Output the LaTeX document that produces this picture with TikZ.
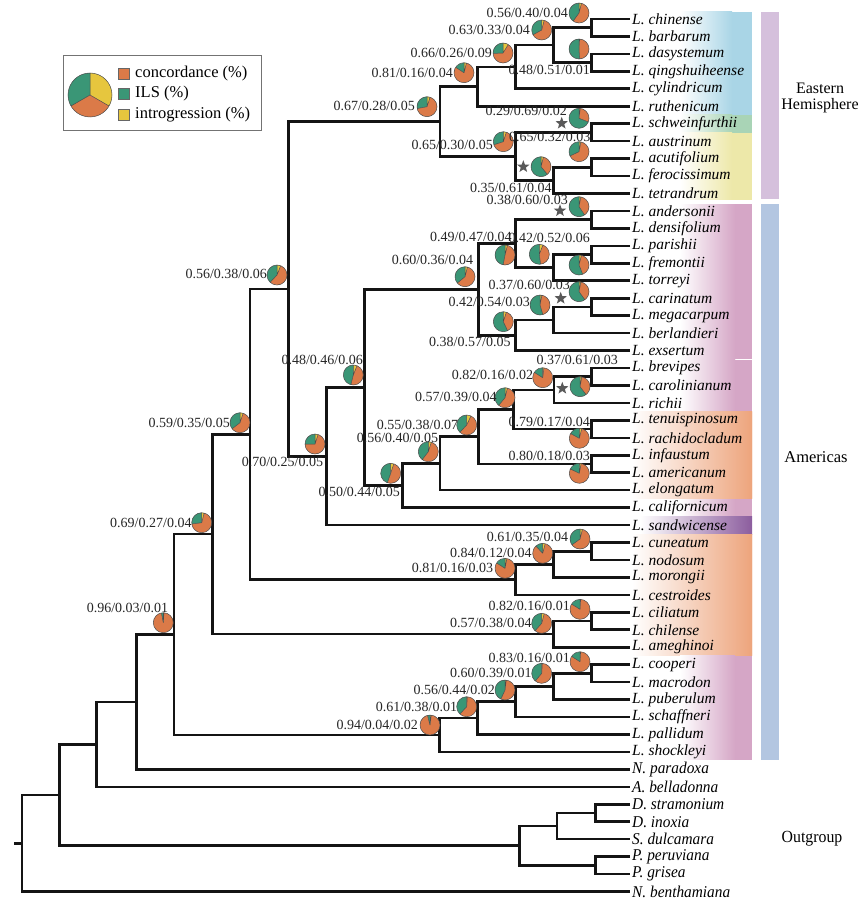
\documentclass[tikz,border=0pt]{standalone}
\usepackage{fontspec}
\setmainfont{Liberation Serif}
\newfontfamily\condfont{Liberation Serif}[FakeStretch=0.93]
\usetikzlibrary{shapes.geometric}
\definecolor{cO}{HTML}{DB7A48}
\definecolor{cG}{HTML}{3A9676}
\definecolor{cY}{HTML}{E6C63E}
\definecolor{bBlue}{HTML}{A9D5E6}
\definecolor{bGreen}{HTML}{A9D4B6}
\definecolor{bYellow}{HTML}{EDE8A9}
\definecolor{bPink}{HTML}{D5A6C6}
\definecolor{bOrange}{HTML}{EDA47C}
\definecolor{bPurple}{HTML}{8C5D9E}
\definecolor{barE}{HTML}{D5C0DC}
\definecolor{barA}{HTML}{B3C6E1}
\newcommand{\piech}[5]{%
 \pgfmathsetmacro{\pcS}{#3+#4+#5}%
 \pgfmathsetmacro{\pcA}{90-360*#5/\pcS}%
 \pgfmathsetmacro{\pcB}{\pcA-360*#3/\pcS}%
 \fill[cY] (#1) -- ++(90:#2) arc[start angle=90,end angle=\pcA,radius=#2] -- cycle;
 \fill[cO] (#1) -- ++(\pcA:#2) arc[start angle=\pcA,end angle=\pcB,radius=#2] -- cycle;
 \fill[cG] (#1) -- ++(\pcB:#2) arc[start angle=\pcB,end angle=-270,radius=#2] -- cycle;
 \draw[pieln] (#1) -- ++(90:#2) (#1) -- ++(\pcA:#2) (#1) -- ++(\pcB:#2) (#1) circle[radius=#2];
}
\newcommand{\band}[5]{%
 \shade[left color=white, right color=#3] (#4,-#1) rectangle (#5,-#2);
 \fill[#3] (#5,-#1) rectangle (752,-#2);
}
\begin{document}
\begin{tikzpicture}[x=1pt,y=1pt,
  br/.style={line width=2.6pt, draw=black!92, line join=miter},
  pieln/.style={draw=black!70, line width=0.5pt},
  num/.style={font=\fontsize{14}{14}\selectfont, text=black!85, inner sep=0pt, anchor=east},
  tiplab/.style={font=\fontsize{15.5}{16}\selectfont\itshape, inner sep=0pt, anchor=west, xshift=2pt},
  ogtip/.style={font=\condfont\fontsize{16.5}{16.5}\selectfont\itshape, inner sep=0pt, anchor=west, xshift=2pt},
  starnode/.style={star, star points=5, star point ratio=2.4, fill=black!65, draw=none, minimum size=13pt, inner sep=0pt},
  legsq/.style={draw=black!60, line width=0.5pt, minimum size=11pt, inner sep=0pt},
  legtext/.style={font=\fontsize{16.5}{17}\selectfont, inner sep=0pt, anchor=west},
  region/.style={font=\fontsize{16}{16}\selectfont, align=center, inner sep=0pt}]
\useasboundingbox (0,0) rectangle (865,-904);

% background bands
\band{11.7}{114.7}{bBlue}{680}{732}
\band{114.7}{133}{bGreen}{680}{732}
\band{133}{199.5}{bYellow}{680}{732}
\band{204}{359.2}{bPink}{680}{735}
\band{359.8}{411.5}{bPink}{680}{735}
\band{411.5}{498.5}{bOrange}{632}{752}
\band{499}{516.5}{bPink}{680}{735}
\shade[left color=white, middle color=bPurple!60, right color=bPurple] (640,-516.5) rectangle (752,-534);
\band{534}{655.5}{bOrange}{632}{752}
\band{655.5}{759.5}{bPink}{680}{735}

% region bars
\fill[barE] (761,-11.7) rectangle (779,-199);
\fill[barA] (761,-204) rectangle (779,-759.5);
\node[region] (eastlab) at (820,-98) {Eastern\\Hemisphere};
\node[region, font=\fontsize{16.5}{17}\selectfont] (amerlab) at (816,-457) {Americas};
\node[region, font=\condfont\fontsize{17}{17}\selectfont] (outlab) at (812,-839) {Outgroup};

% tips
\foreach \n [count=\i from 0] in {L. chinense,L. barbarum,L. dasystemum,L. qingshuiheense,L. cylindricum,L. ruthenicum,L. schweinfurthii,L. austrinum,L. acutifolium,L. ferocissimum,L. tetrandrum,L. andersonii,L. densifolium,L. parishii,L. fremontii,L. torreyi,L. carinatum,L. megacarpum,L. berlandieri,L. exsertum,L. brevipes,L. carolinianum,L. richii,L. tenuispinosum,L. rachidocladum,L. infaustum,L. americanum,L. elongatum,L. californicum,L. sandwicense,L. cuneatum,L. nodosum,L. morongii,L. cestroides,L. ciliatum,L. chilense,L. ameghinoi,L. cooperi,L. macrodon,L. puberulum,L. schaffneri,L. pallidum,L. shockleyi}{
  \coordinate (t\i) at (630,{-(19+17.45*\i)});
  \node[tiplab] (tl\i) at (t\i) {\n};
}
\foreach \n [count=\i from 43] in {N. paradoxa,A. belladonna,D. stramonium,D. inoxia,S. dulcamara,P. peruviana,P. grisea,N. benthamiana}{
  \coordinate (t\i) at (630,{-(19+17.45*\i)});
  \node[ogtip] (tl\i) at (t\i) {\n};
}

% internal nodes
\coordinate (nCB) at (591.7,-27.725);
\coordinate (nDQ) at (591.7,-62.625);
\coordinate (nCBDQ) at (553.3,-45.175);
\coordinate (nCyl) at (515.7,-66.99);
\coordinate (nRuth) at (477.7,-86.62);
\coordinate (nSA) at (591.7,-132.425);
\coordinate (nAF) at (591.7,-167.325);
\coordinate (nAFT) at (553.3,-180.41);
\coordinate (nSAAFT) at (515.7,-156.42);
\coordinate (nEast) at (440,-121.52);
\coordinate (nAD) at (591.7,-219.675);
\coordinate (nPF) at (591.7,-254.575);
\coordinate (nPFT) at (553.3,-267.66);
\coordinate (nADPFT) at (515.7,-243.67);
\coordinate (nCM) at (591.7,-306.925);
\coordinate (nCMB) at (553.3,-320.01);
\coordinate (nCMBE) at (515.7,-335.28);
\coordinate (nAm1) at (478.3,-289.475);
\coordinate (nBC) at (591.7,-376.725);
\coordinate (nBCR) at (554,-389.81);
\coordinate (nTR) at (591.7,-429.075);
\coordinate (nBCRTR) at (513.3,-409.44);
\coordinate (nIA) at (591.7,-463.975);
\coordinate (nBIA) at (478.3,-436.71);
\coordinate (nElong) at (440,-463.43);
\coordinate (nCalif) at (402.3,-485.515);
\coordinate (nI) at (364.3,-387.495);
\coordinate (nH) at (326.7,-456.27);
\coordinate (nG) at (288.3,-288.9);
\coordinate (nCN) at (591.7,-551.225);
\coordinate (nCNM) at (553.3,-564.31);
\coordinate (nCNMC) at (515.7,-579.58);
\coordinate (nF) at (250,-434.24);
\coordinate (nCC) at (591.7,-621.025);
\coordinate (nCCA) at (553.3,-634.11);
\coordinate (nE) at (212.3,-534.175);
\coordinate (nCoM) at (591.7,-673.375);
\coordinate (nCoMP) at (553.3,-686.46);
\coordinate (nCoMPS) at (515.7,-701.73);
\coordinate (nCoMPSP) at (477.3,-718.09);
\coordinate (nCoAll) at (439.3,-735);
\coordinate (nD) at (174,-634.59);
\coordinate (nC) at (136.7,-701.97);
\coordinate (nB) at (96.7,-744.385);
\coordinate (nDD) at (595.6,-812.975);
\coordinate (nDDS) at (557,-826.06);
\coordinate (nPP) at (595.6,-865.325);
\coordinate (nOut) at (519.4,-845.69);
\coordinate (nA) at (59.3,-795.04);
\coordinate (nRoot) at (22,-843.27);
\coordinate (rootstub) at (14,-843.27);

% branches
\foreach \p/\c in {nCB/t0,nCB/t1,nDQ/t2,nDQ/t3,nCBDQ/nCB,nCBDQ/nDQ,nCyl/nCBDQ,nCyl/t4,nRuth/nCyl,nRuth/t5,
  nSA/t6,nSA/t7,nAF/t8,nAF/t9,nAFT/nAF,nAFT/t10,nSAAFT/nSA,nSAAFT/nAFT,nEast/nRuth,nEast/nSAAFT,
  nAD/t11,nAD/t12,nPF/t13,nPF/t14,nPFT/nPF,nPFT/t15,nADPFT/nAD,nADPFT/nPFT,nCM/t16,nCM/t17,nCMB/nCM,nCMB/t18,
  nCMBE/nCMB,nCMBE/t19,nAm1/nADPFT,nAm1/nCMBE,nBC/t20,nBC/t21,nBCR/nBC,nBCR/t22,nTR/t23,nTR/t24,
  nBCRTR/nBCR,nBCRTR/nTR,nIA/t25,nIA/t26,nBIA/nBCRTR,nBIA/nIA,nElong/nBIA,nElong/t27,nCalif/nElong,nCalif/t28,
  nI/nAm1,nI/nCalif,nH/nI,nH/t29,nG/nEast,nG/nH,nCN/t30,nCN/t31,nCNM/nCN,nCNM/t32,nCNMC/nCNM,nCNMC/t33,
  nF/nG,nF/nCNMC,nCC/t34,nCC/t35,nCCA/nCC,nCCA/t36,nE/nF,nE/nCCA,nCoM/t37,nCoM/t38,nCoMP/nCoM,nCoMP/t39,
  nCoMPS/nCoMP,nCoMPS/t40,nCoMPSP/nCoMPS,nCoMPSP/t41,nCoAll/nCoMPSP,nCoAll/t42,nD/nE,nD/nCoAll,
  nC/nD,nC/t43,nB/nC,nB/t44,nDD/t45,nDD/t46,nDDS/nDD,nDDS/t47,nPP/t48,nPP/t49,nOut/nDDS,nOut/nPP,
  nA/nB,nA/nOut,nRoot/nA,nRoot/t50}{
  \draw[br] (\p) |- (\c);
}
\draw[br] (rootstub) -- (nRoot);

% pies
\piech{579,-13}{10}{0.56}{0.40}{0.04}
\piech{579,-49}{10}{0.48}{0.51}{0.01}
\piech{541.7,-30}{10}{0.63}{0.33}{0.04}
\piech{503,-53}{10}{0.66}{0.26}{0.09}
\piech{464,-72.7}{10}{0.81}{0.16}{0.04}
\piech{427,-106.7}{10}{0.67}{0.28}{0.05}
\piech{579,-118.3}{10}{0.29}{0.69}{0.02}
\piech{579,-151.7}{10}{0.65}{0.32}{0.03}
\piech{541,-166.7}{10}{0.35}{0.61}{0.04}
\piech{503.3,-141.7}{10}{0.65}{0.30}{0.05}
\piech{579,-206.7}{10}{0.38}{0.60}{0.03}
\piech{579,-265}{10}{0.40}{0.56}{0.04}
\piech{539.3,-254.3}{10}{0.42}{0.52}{0.06}
\piech{505,-255}{10}{0.49}{0.47}{0.04}
\piech{465,-276.7}{10}{0.60}{0.36}{0.04}
\piech{579,-291.7}{10}{0.37}{0.60}{0.03}
\piech{540,-305}{10}{0.42}{0.54}{0.03}
\piech{503.3,-321.7}{10}{0.38}{0.57}{0.05}
\piech{353.3,-375}{10}{0.48}{0.46}{0.06}
\piech{580,-386.7}{10}{0.37}{0.61}{0.03}
\piech{542.7,-377.7}{10}{0.82}{0.16}{0.02}
\piech{505,-397.7}{10}{0.57}{0.39}{0.04}
\piech{579.3,-438.3}{10}{0.79}{0.17}{0.04}
\piech{466.7,-425}{10}{0.55}{0.38}{0.07}
\piech{579.3,-473.3}{10}{0.80}{0.18}{0.03}
\piech{428.3,-451.7}{10}{0.56}{0.40}{0.05}
\piech{390.7,-473.3}{10}{0.50}{0.44}{0.05}
\piech{315,-444}{10}{0.70}{0.25}{0.05}
\piech{277,-275}{10}{0.56}{0.38}{0.06}
\piech{240,-422.7}{10}{0.59}{0.35}{0.05}
\piech{201.7,-522.7}{10}{0.69}{0.27}{0.04}
\piech{163.3,-622.7}{10}{0.96}{0.03}{0.01}
\piech{580,-539}{10}{0.61}{0.35}{0.04}
\piech{542.7,-553.3}{10}{0.84}{0.12}{0.04}
\piech{505,-568.3}{10}{0.81}{0.16}{0.03}
\piech{580,-609.3}{10}{0.82}{0.16}{0.01}
\piech{541.7,-623.3}{10}{0.57}{0.38}{0.04}
\piech{580,-661.7}{10}{0.83}{0.16}{0.01}
\piech{541.7,-673.3}{10}{0.60}{0.39}{0.01}
\piech{505,-690}{10}{0.56}{0.44}{0.02}
\piech{466.7,-706.7}{10}{0.61}{0.38}{0.01}
\piech{430,-725}{10}{0.94}{0.04}{0.02}

% value labels
\node[num] (L1) at (568,-13) {0.56/0.40/0.04};
\node[num] (L2) at (590,-70) {0.48/0.51/0.01};
\node[num] (L3) at (530,-30) {0.63/0.33/0.04};
\node[num] (L4) at (492,-53) {0.66/0.26/0.09};
\node[num] (L5) at (453,-72.5) {0.81/0.16/0.04};
\node[num] (L6) at (415,-106) {0.67/0.28/0.05};
\node[num] (L7) at (567,-110.7) {0.29/0.69/0.02};
\node[num] (L8) at (590.5,-136.7) {0.65/0.32/0.03};
\node[num] (L9) at (551.7,-187.7) {0.35/0.61/0.04};
\node[num] (L10) at (493,-145) {0.65/0.30/0.05};
\node[num] (L11) at (568,-200) {0.38/0.60/0.03};
\node[num] (L13) at (590,-238.3) {0.42/0.52/0.06};
\node[num] (L14) at (511.7,-237.3) {0.49/0.47/0.04};
\node[num] (L15) at (473.3,-260) {0.60/0.36/0.04};
\node[num] (L16) at (570,-285) {0.37/0.60/0.03};
\node[num] (L17) at (530,-302.3) {0.42/0.54/0.03};
\node[num] (L18) at (510.7,-341.7) {0.38/0.57/0.05};
\node[num] (L19) at (363,-360) {0.48/0.46/0.06};
\node[num] (L20) at (618,-360) {0.37/0.61/0.03};
\node[num] (L21) at (533.3,-375) {0.82/0.16/0.02};
\node[num] (L22) at (496.7,-396.7) {0.57/0.39/0.04};
\node[num] (L23) at (590,-421.7) {0.79/0.17/0.04};
\node[num] (L24) at (458.3,-425) {0.55/0.38/0.07};
\node[num] (L25) at (590,-456) {0.80/0.18/0.03};
\node[num] (L26) at (438.3,-437.7) {0.56/0.40/0.05};
\node[num] (L27) at (400,-491.7) {0.50/0.44/0.05};
\node[num] (L28) at (323.3,-462) {0.70/0.25/0.05};
\node[num] (L29) at (267,-274) {0.56/0.38/0.06};
\node[num] (L30) at (230,-422.7) {0.59/0.35/0.05};
\node[num] (L31) at (191.7,-522.7) {0.69/0.27/0.04};
\node[num] (L32) at (168.3,-608.3) {0.96/0.03/0.01};
\node[num] (L33) at (568.3,-536.7) {0.61/0.35/0.04};
\node[num] (L34) at (531.7,-553.3) {0.84/0.12/0.04};
\node[num] (L35) at (493.3,-568.3) {0.81/0.16/0.03};
\node[num] (L36) at (570,-605.7) {0.82/0.16/0.01};
\node[num] (L37) at (531.7,-623.3) {0.57/0.38/0.04};
\node[num] (L38) at (570,-658.3) {0.83/0.16/0.01};
\node[num] (L39) at (531.7,-673.3) {0.60/0.39/0.01};
\node[num] (L40) at (495,-690) {0.56/0.44/0.02};
\node[num] (L41) at (457.3,-706.7) {0.61/0.38/0.01};
\node[num] (L42) at (418,-725) {0.94/0.04/0.02};

% stars
\node[starnode] (s1) at (561.7,-123.3) {};
\node[starnode] (s2) at (523.3,-166.7) {};
\node[starnode] (s3) at (560,-210.7) {};
\node[starnode] (s4) at (560.7,-298.3) {};
\node[starnode] (s5) at (562.3,-388.3) {};

% legend
\node[draw=black!55, line width=0.8pt, minimum width=198.4pt, minimum height=75.7pt, inner sep=0pt] (legend) at (162.5,-92.85) {};
\piech{90,-95}{22}{1}{1}{1}
\node[legsq, fill=cO] (sqO) at (124.2,-73.7) {};
\node[legsq, fill=cG] (sqG) at (124.2,-94) {};
\node[legsq, fill=cY] (sqY) at (124.2,-114.7) {};
\node[legtext] (txO) at (135,-73.3) {concordance (\%)};
\node[legtext] (txG) at (135,-93.8) {ILS (\%)};
\node[legtext] (txY) at (135,-114.7) {introgression (\%)};
\end{tikzpicture}
\end{document}
